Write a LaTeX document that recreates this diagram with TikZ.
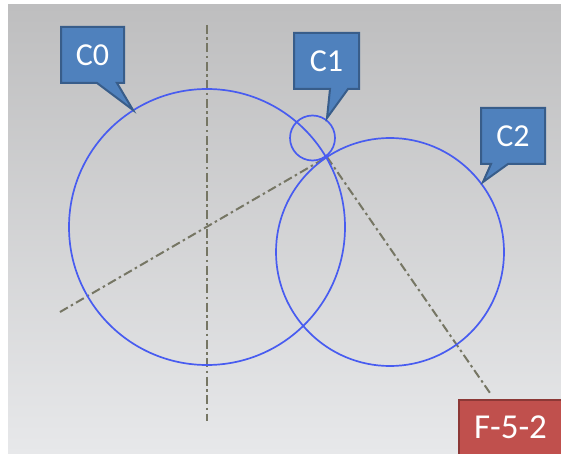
\documentclass[tikz,border=0pt]{standalone}
\usepackage{fontspec}
\setmainfont{Carlito}
\definecolor{bgtop}{RGB}{190,190,191}
\definecolor{bgbot}{RGB}{231,232,234}
\definecolor{circblue}{RGB}{72,92,240}
\definecolor{axisgray}{RGB}{118,118,100}
\definecolor{callfill}{RGB}{79,129,189}
\definecolor{callline}{RGB}{56,93,138}
\definecolor{redfill}{RGB}{192,80,77}
\definecolor{redline}{RGB}{140,56,54}
\tikzset{
  geomcircle/.style={circle, draw=circblue, line width=1.7pt, inner sep=0pt},
  axisline/.style={draw=axisgray, line width=2pt, dash pattern=on 9pt off 3.5pt on 2.5pt off 3.5pt},
  calloutbox/.style={fill=callfill, draw=callline, line width=2pt, line join=miter},
  calltext/.style={text=white, font=\fontsize{32}{34}\selectfont, inner sep=0pt},
  tagbox/.style={fill=redfill, draw=redline, line width=2pt, text=white, font=\fontsize{35}{38}\selectfont, inner sep=0pt}
}
\begin{document}
\begin{tikzpicture}[x=1pt, y=-1pt]
\useasboundingbox (0,0) rectangle (561,454);
\fill[white] (0,0) rectangle (561,454);
\shade[top color=bgtop, bottom color=bgbot] (8,5) rectangle (561,454);

% centres and key points
\coordinate (o0) at (207,227);
\coordinate (o2) at (390,252);
\coordinate (P) at (327,157);
\coordinate (vtop) at (207,25);
\coordinate (vbot) at (207,421);
\coordinate (lstart) at (60,312);
\coordinate (lend) at (490,393);

% axis lines
\draw[axisline] (vtop) -- (vbot);
\draw[axisline] (lstart) -- (P);
\draw[axisline] (P) -- (lend);

% circles
\node[geomcircle, minimum size=276pt] (c0) at (o0) {};
\node[geomcircle, minimum size=228pt] (c2) at (o2) {};
\node[geomcircle, minimum size=45pt] (c1) at (312.5,138) {};

% callouts
\coordinate (t0) at (133,110);
\coordinate (t1) at (327,118);
\coordinate (t2) at (483,182);
\draw[calloutbox] (61,27) -- (124,27) -- (124,83) -- (117,83) -- (t0) -- (97,83) -- (61,83) -- cycle;
\node[calltext] (l0) at (92.5,55) {C0};
\draw[calloutbox] (294,33) -- (359,33) -- (359,89) -- (348,89) -- (t1) -- (330,89) -- (294,89) -- cycle;
\node[calltext] (l1) at (326.5,61) {C1};
\draw[calloutbox] (481,108) -- (545,108) -- (545,164) -- (508,164) -- (t2) -- (491,164) -- (481,164) -- cycle;
\node[calltext] (l2) at (513,136) {C2};

% figure tag
\node[tagbox, minimum width=103pt, minimum height=55pt] (tag) at (510.5,427.5) {F-5-2};
\end{tikzpicture}
\end{document}
